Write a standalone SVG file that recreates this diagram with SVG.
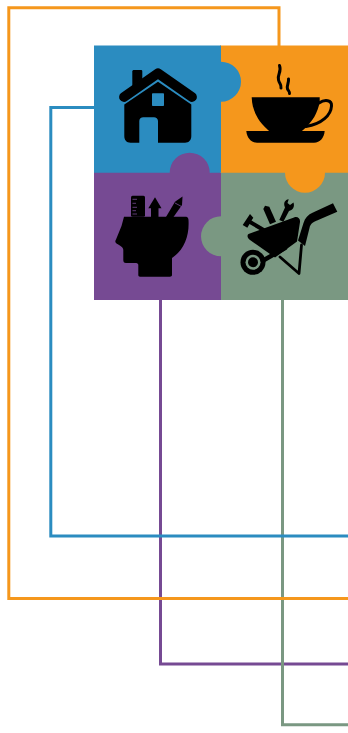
<svg xmlns="http://www.w3.org/2000/svg" width="348" height="733" viewBox="0 0 348 733">
<style>
.c{fill:none;stroke-width:3}
.k{fill:#000}
.ks{fill:none;stroke:#000;stroke-linecap:round;stroke-linejoin:round}
.b{fill:#2b8cc0}.o{fill:#f5971c}.p{fill:#764a93}.g{fill:#7a9882}
</style>
<rect width="348" height="733" fill="#fff"/>
<g id="connectors">
<path class="c" stroke="#764a93" d="M160.500 299V664H348"/>
<path class="c" stroke="#7a9882" d="M282.500 299V724.700H348"/>
<path class="c" stroke="#2b8cc0" d="M95 107.500H50.800V536H348"/>
<path class="c" stroke="#f5971c" d="M279 46V7.800H8.800V598.500H348"/>
</g>
<g id="node-mind">
<path class="p" d="M94 172H168.700V172.700A21 21 0 0 1 210.700 172.700V172H222V300H94Z"/>
<rect class="k" x="131" y="195.700" width="14" height="21" rx="1.500"/>
<path stroke="#764a93" stroke-width=".8" d="M132.500 199.300H137M132.500 203.300H136M132.500 207.300H137M132.500 210.700H136M132.500 214H137"/>
<path class="k" d="M155 197.300L161.500 208.300H158.500V217H151V208.300H148.300Z"/>
<path class="k" d="M166 217L175 201.700L182.500 196.500L182 205L173.500 217Z"/>
<path stroke="#764a93" stroke-width=".8" d="M175 203L181.500 206.500"/>
<path class="k" d="M124 216.700H186C187.500 216.700 188.500 218 188.500 220C189.500 236 184 250 172 258V275C172 276 171 276.700 170 276.700H140C139 276.700 138.300 276 138.300 275V265C138.300 263.500 137 263 135 263H126C124 263 123.300 262 123.300 260V250C123.300 247 120 245.500 116.500 243.500C115 242.500 115 241 116 239.500L121.500 226Z"/>
</g>
<g id="node-tools">
<path class="g" d="M221 172H348V300H221V256.300A20 20 0 0 1 221 216.300Z"/>
<path class="k" d="M248.500 234L294 217.500C297 216 300.500 218 300 222L297 241.500L275 257.500L250 240C247 238 247 235 248.500 234Z"/>
<path class="k" d="M298 240.500L303.500 223C305 218 308 214.500 313 212.500L333 203.300L337.300 211.700L317 220.500C312 222.500 310.500 224 309.500 228L305 246Z"/>
<path class="ks" stroke-width="2.800" d="M301.500 245L299 273.500L280 257"/>
<path class="ks" stroke-width="4.500" d="M264 260L285 248"/>
<circle class="k" cx="253" cy="262.300" r="12.500"/>
<circle class="g" cx="253" cy="262.300" r="7.500"/>
<circle class="k" cx="253" cy="262.300" r="5"/>
<path class="k" d="M242.700 225L250 214L253.300 217.700L251.500 220.500L265 228.500L263 232L249.500 224L247.300 227.700Z"/>
<path class="k" d="M263.300 209L265 205.700L269.300 206.700L276 221.700L270 224.300Z"/>
<path class="k" d="M279.300 220L285 207.500C283 203 285 199.800 288.700 199.300L287.500 203L290 205L293.500 202.500C295 207 292.500 210.300 289 211L283.300 221.700Z"/>
</g>
<g id="node-coffee">
<path class="o" d="M220 45.500H348V172.700H325A20 20 0 0 1 285 172.700H220Z"/>
<path class="k" d="M251.700 97.300H319.700V101.500C318 112 313 122 301.300 131.500H269.700C258 122 252 110 251.700 97.300Z"/>
<path class="ks" stroke-width="3" d="M319 103C325 99 332 100 331.500 106C331 115 322 124 306 126.500"/>
<path class="k" d="M246.300 131H324.700C324 138 320 142.700 314 142.700H257C251 142.700 247 138 246.300 131Z"/>
<path class="ks" stroke-width="3" d="M279.500 65.500C282 72 277 74 278.500 80C279.500 84 281.500 84 281 88"/>
<path class="ks" stroke-width="3" d="M288.500 79C289 83 286.500 85 287.500 89C288.500 91 290 92 289.500 93.500"/>
</g>
<g id="node-home">
<path class="b" d="M94 45.500H221V61.700A20 20 0 0 1 221 101.700V172.700H209.700A20 20 0 0 0 169.700 172.700H94Z"/>
<path class="k" d="M132.300 71.500C132.300 70.500 133 70 134 70H141C142 70 142.300 70.500 142.300 71.500V79L132.300 86Z"/>
<path class="ks" stroke-width="9.800" d="M124 97L158 73.300L192 97"/>
<path class="k" d="M158 81.700L191.300 104.500V136C191.300 140 189 142.700 185 142.700H158V121C158 119 156 117.300 154 117.300H143.300C141 117.300 139.300 119 139.300 121V142.700H130.500C126.500 142.700 124.300 140 124.300 136V104.500Z"/>
<rect class="b" x="152" y="93.300" width="12" height="12.700" rx=".8"/>
</g>
</svg>
